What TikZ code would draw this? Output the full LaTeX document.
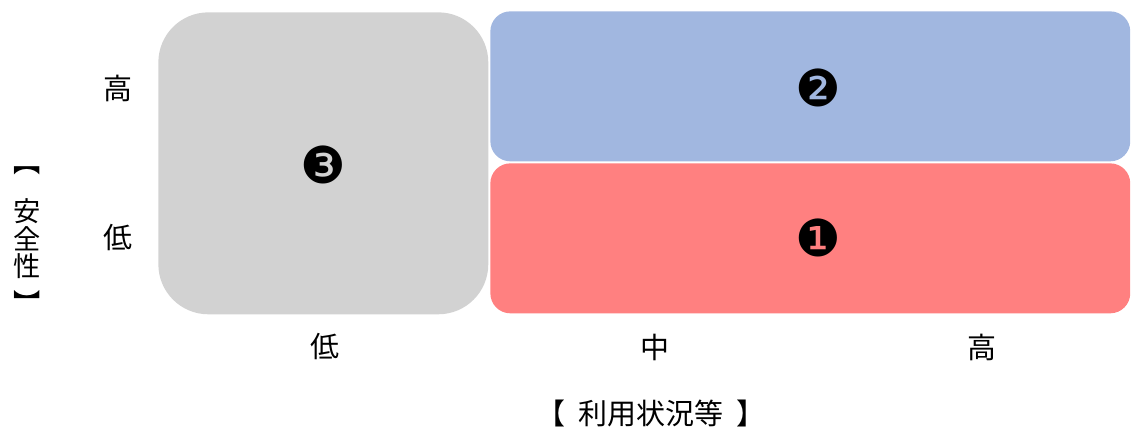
\documentclass[tikz,border=0pt]{standalone}
\usepackage{fontspec}
\usepackage{xcolor}
\newfontfamily\jpfont{Noto Sans CJK JP}
\newfontfamily\symfont{DejaVu Sans}
\definecolor{boxgrey}{RGB}{210,210,210}
\definecolor{boxblue}{RGB}{161,183,224}
\definecolor{boxred}{RGB}{255,128,128}
\usetikzlibrary{positioning}

\begin{document}
\begin{tikzpicture}[x=0.02cm, y=-0.02cm,
	area/.style={draw=none, inner sep=0pt, anchor=north west},
	num/.style={font=\symfont\fontsize{29}{29}\selectfont},
	lbl/.style={font=\jpfont\fontsize{16.5}{18}\selectfont, inner sep=0pt}]
	\useasboundingbox (0,0) rectangle (1131,429);
	% Areas
	\node[area, fill=boxgrey, rounded corners=1cm, minimum width=6.6cm, minimum height=6.04cm] (low) at (158,12) {};
	\node[area, fill=boxblue, rounded corners=0.4cm, minimum width=12.8cm, minimum height=3cm] (high) at (490,11) {};
	\node[area, fill=boxred, rounded corners=0.4cm, minimum width=12.8cm, minimum height=3cm] (mid) at (490,163) {};
	% Numbers
	\node[num] (n3) at (323,165) {❸};
	\node[num] (n2) at (818,88) {❷};
	\node[num] (n1) at (818,238) {❶};
	% Vertical axis
	\node[lbl] (yhigh) at (118,88) {高};
	\node[lbl] (ylow) at (118,238) {低};
	\node[lbl, anchor=north, align=center, font=\jpfont\fontsize{15.5}{15.5}\selectfont] (ytitle) at (27,166)
		{︻\\[12.8pt]安\\全\\性\\[5.4pt]︼};
	% Horizontal axis
	\node[lbl] (xlow) at (325,347) {低};
	\node[lbl] (xmid) at (655,347) {中};
	\node[lbl] (xhigh) at (982,347) {高};
	\node[lbl] (xtitle) at (651,413) {【\hspace{0.45em}利用状況等\hspace{0.45em}】};
\end{tikzpicture}
\end{document}
